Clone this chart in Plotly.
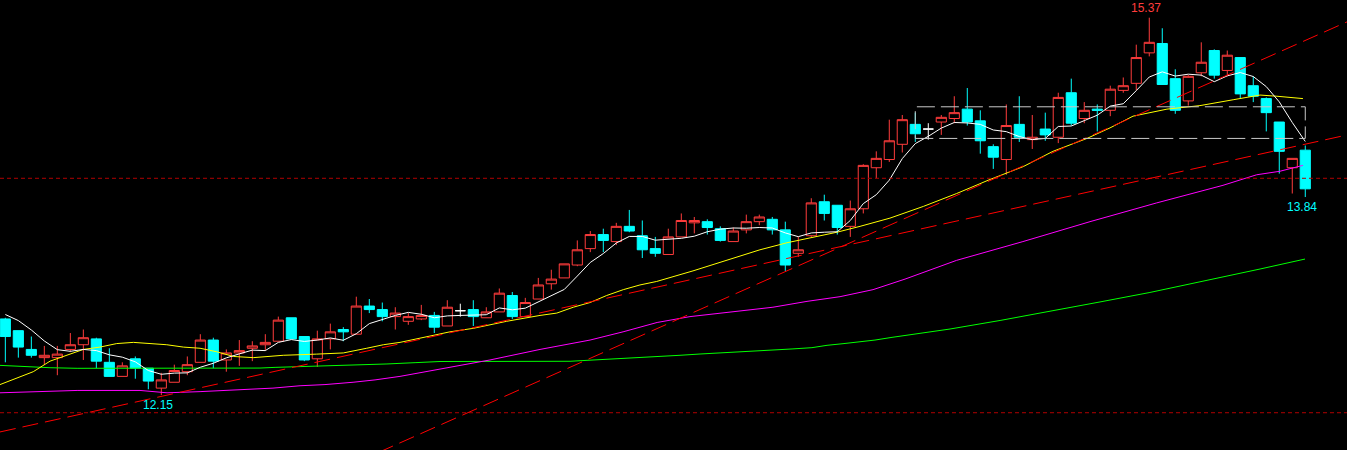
import numpy as np
import pandas as pd
import plotly.graph_objects as go

# ---------------- data ----------------
open_ = [12.80, 12.70, 12.54, 12.47, 12.47, 12.54, 12.58, 12.63, 12.43, 12.31,
         12.46, 12.38, 12.21, 12.26, 12.35, 12.43, 12.62, 12.45, 12.51, 12.55,
         12.58, 12.61, 12.81, 12.65, 12.46, 12.63, 12.71, 12.67, 12.91, 12.88,
         12.82, 12.78, 12.80, 12.83, 12.74, 12.87, 12.88, 12.81, 12.86, 13.00,
         12.82, 12.97, 13.10, 13.15, 13.26, 13.40, 13.52, 13.46, 13.59, 13.51,
         13.40, 13.35, 13.50, 13.62, 13.63, 13.57, 13.46, 13.56, 13.63, 13.65,
         13.56, 13.36, 13.51, 13.80, 13.77, 13.59, 13.74, 14.09, 14.16, 14.29,
         14.46, 14.42, 14.48, 14.51, 14.59, 14.49, 14.27, 14.16, 14.46, 14.33,
         14.42, 14.35, 14.73, 14.51, 14.59, 14.58, 14.75, 14.81, 15.07, 15.15,
         14.85, 14.66, 14.90, 15.09, 14.92, 15.03, 14.79, 14.68, 14.48, 14.09,
         14.24]
high = [12.81, 12.70, 12.65, 12.57, 12.57, 12.68, 12.71, 12.64, 12.55, 12.43,
        12.48, 12.38, 12.34, 12.41, 12.48, 12.67, 12.64, 12.54, 12.62, 12.61,
        12.67, 12.82, 12.81, 12.65, 12.70, 12.76, 12.73, 12.99, 12.97, 12.94,
        12.90, 12.85, 12.92, 12.86, 12.96, 12.93, 12.96, 12.90, 13.06, 13.03,
        12.98, 13.15, 13.22, 13.27, 13.47, 13.55, 13.57, 13.62, 13.73, 13.64,
        13.50, 13.57, 13.70, 13.67, 13.65, 13.59, 13.58, 13.69, 13.69, 13.67,
        13.63, 13.50, 13.83, 13.86, 13.77, 13.81, 14.12, 14.23, 14.50, 14.54,
        14.56, 14.47, 14.54, 14.70, 14.77, 14.58, 14.29, 14.63, 14.70, 14.54,
        14.56, 14.73, 14.85, 14.65, 14.63, 14.79, 14.86, 15.14, 15.37, 15.28,
        14.93, 14.88, 15.16, 15.10, 15.09, 15.03, 14.87, 14.69, 14.48, 14.17,
        14.28]
low = [12.43, 12.47, 12.47, 12.41, 12.32, 12.52, 12.45, 12.38, 12.31, 12.31,
       12.29, 12.20, 12.15, 12.26, 12.32, 12.43, 12.38, 12.35, 12.40, 12.44,
       12.53, 12.61, 12.63, 12.44, 12.39, 12.54, 12.61, 12.67, 12.85, 12.78,
       12.71, 12.75, 12.79, 12.68, 12.74, 12.82, 12.74, 12.81, 12.86, 12.80,
       12.82, 12.97, 13.05, 13.15, 13.25, 13.37, 13.37, 13.43, 13.54, 13.32,
       13.33, 13.35, 13.50, 13.53, 13.52, 13.46, 13.46, 13.53, 13.60, 13.52,
       13.21, 13.33, 13.50, 13.64, 13.52, 13.50, 13.70, 14.00, 14.14, 14.22,
       14.31, 14.33, 14.37, 14.47, 14.45, 14.21, 14.08, 14.03, 14.31, 14.25,
       14.32, 14.30, 14.45, 14.47, 14.40, 14.53, 14.73, 14.75, 15.04, 14.80,
       14.55, 14.62, 14.87, 14.85, 14.87, 14.68, 14.65, 14.40, 14.04, 13.87,
       13.84]
close = [12.65, 12.56, 12.49, 12.49, 12.50, 12.58, 12.64, 12.44, 12.31, 12.40,
         12.38, 12.27, 12.28, 12.36, 12.41, 12.62, 12.44, 12.51, 12.53, 12.57,
         12.60, 12.79, 12.63, 12.45, 12.63, 12.69, 12.69, 12.91, 12.88, 12.82,
         12.85, 12.82, 12.83, 12.73, 12.90, 12.87, 12.82, 12.86, 13.02, 12.82,
         12.94, 13.09, 13.14, 13.27, 13.39, 13.52, 13.47, 13.59, 13.55, 13.39,
         13.36, 13.50, 13.64, 13.64, 13.58, 13.47, 13.55, 13.63, 13.67, 13.56,
         13.26, 13.39, 13.79, 13.70, 13.58, 13.74, 14.11, 14.17, 14.32, 14.50,
         14.38, 14.42, 14.52, 14.56, 14.48, 14.32, 14.18, 14.45, 14.35, 14.35,
         14.37, 14.69, 14.47, 14.58, 14.58, 14.76, 14.79, 15.03, 15.16, 14.80,
         14.58, 14.87, 14.99, 14.88, 15.05, 14.72, 14.70, 14.56, 14.23, 14.17,
         13.91]
doji_days = [35, 71]
prior_close = [12.82, 12.89, 12.96, 12.87]   # 4 sessions before the first shown

ma_yellow_x = [-0.41, 2.15, 3.44, 4.72, 6.0, 7.28, 8.57, 9.85, 11.13, 12.42, 13.69, 14.98,
               16.26, 17.54, 19.08, 21.38, 23.95, 26.0, 27.8, 29.08, 30.36, 31.65, 32.92,
               34.2, 36.0, 38.57, 41.13, 42.42, 43.69, 44.98, 46.26, 47.54, 48.82, 50.11,
               52.9, 55.52, 58.05, 60.13, 61.9, 63.98, 65.75, 68.05, 70.62, 73.18, 75.75,
               78.31, 80.59, 83.21, 84.98, 86.75, 89.36, 91.9, 94.45, 96.52, 97.82, 99.82]
ma_yellow_y = [12.24, 12.35, 12.44, 12.49, 12.54, 12.56, 12.59, 12.60, 12.59, 12.58, 12.56,
               12.55, 12.52, 12.48, 12.47, 12.49, 12.50, 12.51, 12.55, 12.58, 12.60, 12.63,
               12.66, 12.69, 12.72, 12.78, 12.83, 12.85, 12.90, 12.94, 13.00, 13.05, 13.09,
               13.12, 13.21, 13.30, 13.39, 13.45, 13.49, 13.54, 13.59, 13.66, 13.76, 13.87,
               13.99, 14.10, 14.23, 14.34, 14.43, 14.53, 14.59, 14.62, 14.67, 14.71, 14.70,
               14.68]
ma_magenta_x = [-0.41, 3.44, 5.52, 10.36, 12.44, 14.98, 17.28, 18.59, 20.59, 22.67, 24.59,
                26.75, 28.44, 30.36, 31.9, 33.44, 37.28, 41.13, 44.98, 47.52, 50.14, 52.67,
                56.52, 59.05, 61.67, 64.21, 66.75, 69.21, 73.18, 78.28, 83.44, 88.57, 93.67,
                96.26, 98.05, 99.82]
ma_magenta_y = [12.17, 12.18, 12.19, 12.19, 12.17, 12.18, 12.19, 12.20, 12.21, 12.23, 12.24,
                12.26, 12.28, 12.31, 12.34, 12.37, 12.45, 12.54, 12.62, 12.69, 12.77, 12.82,
                12.87, 12.90, 12.95, 12.99, 13.05, 13.14, 13.30, 13.46, 13.63, 13.79, 13.94,
                14.03, 14.06, 14.11]
ma_green_x = [-0.41, 1.52, 3.44, 5.52, 15.36, 19.59, 20.75, 23.82, 27.05, 29.36, 31.52, 33.44,
              43.44, 45.52, 47.05, 48.59, 50.52, 51.9, 53.44, 54.98, 56.06, 57.52, 59.13,
              60.52, 62.05, 63.21, 64.44, 65.75, 66.9, 68.21, 72.67, 76.52, 80.36, 84.21,
              88.05, 92.67, 96.52, 99.98]
ma_green_y = [12.404, 12.392, 12.384, 12.379, 12.379, 12.381, 12.387, 12.396, 12.404, 12.416,
              12.427, 12.437, 12.439, 12.450, 12.460, 12.471, 12.481, 12.490, 12.501, 12.509,
              12.518, 12.526, 12.535, 12.544, 12.555, 12.575, 12.589, 12.603, 12.620, 12.643,
              12.714, 12.787, 12.864, 12.945, 13.026, 13.132, 13.226, 13.311]

trend_a = ([0, 100], [11.846, 14.291])
trend_b = ([0, 100], [10.246, 15.176])
price_levels = [14.00, 12.00]
box_days = [70, 100]
box_prices = [14.34, 14.61]

hi_day, hi_val = 88, 15.37
lo_day, lo_val = 12, 12.15
last_day, last_val = 100, 13.84

# ---------------- styling ----------------
RED = "#ff3c3c"
CYAN = "#00ffff"
X_RANGE = [-0.41, 103.21]
Y_RANGE = [11.682, 15.521]

days = np.arange(len(close))
o = np.array(open_); h = np.array(high); l = np.array(low); c = np.array(close)
is_doji = np.isin(days, doji_days)

ma5 = pd.Series(prior_close + close).rolling(5).mean().to_numpy()[len(prior_close):]

fig = go.Figure()
m = ~is_doji
fig.add_trace(go.Candlestick(
    x=days[m], open=o[m], high=h[m], low=l[m], close=c[m],
    increasing=dict(line=dict(color=RED, width=1), fillcolor="#000000"),
    decreasing=dict(line=dict(color=CYAN, width=1), fillcolor=CYAN),
    whiskerwidth=0, hoverinfo="skip", showlegend=False))
fig.add_trace(go.Candlestick(
    x=days[is_doji], open=o[is_doji], high=h[is_doji], low=l[is_doji], close=c[is_doji],
    increasing=dict(line=dict(color="#ffffff", width=1), fillcolor="#ffffff"),
    decreasing=dict(line=dict(color="#ffffff", width=1), fillcolor="#ffffff"),
    whiskerwidth=0, hoverinfo="skip", showlegend=False))

for xs, ys, col in [(ma_green_x, ma_green_y, "#00ff00"),
                    (ma_magenta_x, ma_magenta_y, "#ff00ff"),
                    (ma_yellow_x, ma_yellow_y, "#ffff00")]:
    fig.add_trace(go.Scatter(x=xs, y=ys, mode="lines", line=dict(color=col, width=1),
                             hoverinfo="skip", showlegend=False))
fig.add_trace(go.Scatter(x=days, y=ma5, mode="lines", line=dict(color="#ffffff", width=1),
                         hoverinfo="skip", showlegend=False))

# horizontal price levels
for p in price_levels:
    fig.add_shape(type="line", xref="x", yref="y", x0=X_RANGE[0], x1=X_RANGE[1], y0=p, y1=p,
                  line=dict(color="#b00000", width=1, dash="4px,3px"))

# trend lines extended across the view
for (tx, ty) in [trend_a, trend_b]:
    k = (ty[1] - ty[0]) / (tx[1] - tx[0])
    xa, xb = X_RANGE
    fig.add_shape(type="line", xref="x", yref="y",
                  x0=xa, y0=ty[0] + k * (xa - tx[0]), x1=xb, y1=ty[0] + k * (xb - tx[0]),
                  line=dict(color="#ff0000", width=1, dash="16px,7px"))

# dashed box
fig.add_shape(type="rect", xref="x", yref="y", x0=box_days[0], x1=box_days[1],
              y0=box_prices[0], y1=box_prices[1],
              line=dict(color="#c8c8c8", width=1, dash="18px,6px"), fillcolor="rgba(0,0,0,0)")

font = dict(family="Liberation Sans, Arial, sans-serif", size=12)
fig.add_annotation(x=hi_day, y=hi_val, text=f"{hi_val:.2f}", showarrow=False,
                   xanchor="center", yanchor="bottom", yshift=1, xshift=-3,
                   font=dict(font, color=RED))
fig.add_annotation(x=lo_day, y=lo_val, text=f"{lo_val:.2f}", showarrow=False,
                   xanchor="center", yanchor="top", yshift=-1, xshift=-3,
                   font=dict(font, color=CYAN))
fig.add_annotation(x=last_day, y=last_val, text=f"{last_val:.2f}", showarrow=False,
                   xanchor="center", yanchor="top", yshift=-1, xshift=-3,
                   font=dict(font, color=CYAN))

fig.update_layout(
    width=1347, height=450, margin=dict(l=0, r=0, t=0, b=0),
    paper_bgcolor="#000000", plot_bgcolor="#000000",
    boxgap=0.22, boxgroupgap=0, showlegend=False,
    xaxis=dict(range=X_RANGE, visible=False, showgrid=False, zeroline=False,
               rangeslider=dict(visible=False), fixedrange=True),
    yaxis=dict(range=Y_RANGE, visible=False, showgrid=False, zeroline=False, fixedrange=True),
)
fig.write_html("out.html", config={"displayModeBar": False},
               post_script="document.body.style.margin='0';document.body.style.background='#000';"
                           "document.body.style.overflow='hidden';")
